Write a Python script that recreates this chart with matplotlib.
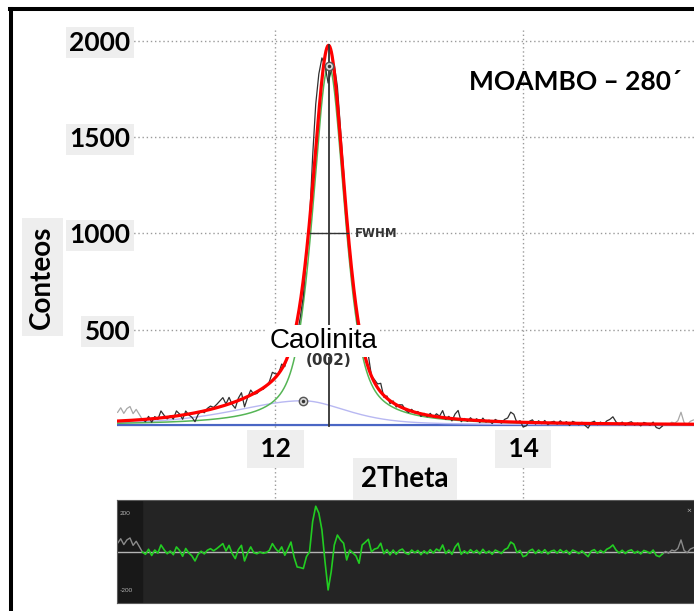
#!/usr/bin/env python3
"""
Ajuste de perfil DRX de la reflexion (002) de caolinita, muestra MOAMBO - 280,
con la curva de diferencias (obs - calc) debajo.
"""

import numpy as np
import matplotlib.pyplot as plt
from matplotlib.lines import Line2D

plt.rcParams["font.family"] = ["Lato", "DejaVu Sans"]

# --- Data ---
# step scan in 2theta
tt_start = 10.725
tt_step = 0.025
fit_first, fit_last = 8, 176   # step indices of the refined window

# difference obs - calc (counts), one value per step
residual = [
    45, 68, 38, 62, 72, 34, 55, 28, 0, -12,
    14, -18, 10, -6, 36, 12, -9, 5, -14, 26,
    8, -22, 18, -5, -20, -46, -12, 4, -10, 9,
    17, 6, 17, 30, 43, 5, 34, -8, -34, 12,
    34, -46, -5, 26, -4, -9, 0, -7, -3, 8,
    43, 18, 0, 26, -17, 15, 51, -26, -77, -80,
    -85, -24, 1, 156, 235, 200, 113, -50, -195, -101,
    36, 87, 62, 45, -41, 10, -5, -20, -58, 36,
    50, 65, 1, 15, 20, 45, -9, 12, -15, 10,
    -12, 8, 15, -6, -12, 10, -4, 8, -14, 6,
    -9, 12, -6, 15, 5, 36, -8, 10, -12, 25,
    45, -12, 6, -8, 12, -4, 9, -10, 14, -6,
    5, -12, 10, 2, -8, 12, 20, 51, 40, -3,
    8, -24, -18, 6, 14, -8, 10, -5, 12, -10,
    4, 9, -6, 12, -3, 8, -12, 10, 3, -8,
    6, -10, -24, 5, 12, -6, 8, -4, 14, 22,
    36, 10, -5, 9, -8, 6, 11, -6, 4, -10,
    8, 2, -7, 10, -18, -24, -10, 3, -6, 10,
    5, 18, 62, 8, -4, 15, 22,
]

# refined profile parameters
background = 5.0

kaol_pos = 12.43          # caolinita (002)
kaol_height = 1868.0
kaol_hwhm = 0.155
kaol_eta = 0.6

broad_pos = 12.22         # broad shoulder (split pseudo-Voigt)
broad_height = 126.0
broad_hwhm_low = 0.65
broad_hwhm_high = 0.42
broad_eta = 0.5

fwhm_level = 1000
yticks = [500, 1000, 1500, 2000]
xticks = [12, 14]
diff_ticks = [200, -200]


def pseudo_voigt(x, pos, height, hwhm, eta):
    u = ((x - pos) / hwhm) ** 2
    return height * (eta / (1.0 + u) + (1.0 - eta) * np.exp(-np.log(2) * u))


def kaolinite(x):
    return pseudo_voigt(x, kaol_pos, kaol_height, kaol_hwhm, kaol_eta)


def broad(x):
    return np.where(
        x < broad_pos,
        pseudo_voigt(x, broad_pos, broad_height, broad_hwhm_low, broad_eta),
        pseudo_voigt(x, broad_pos, broad_height, broad_hwhm_high, broad_eta),
    )


def calc(x):
    return background + kaolinite(x) + broad(x)


two_theta = tt_start + tt_step * np.arange(len(residual))
diff = np.array(residual, dtype=float)
obs = calc(two_theta) + diff

xmin, xmax = 10.72, 15.38
x_fine = np.linspace(xmin, xmax, 1500)

# --- Layout (pixel helpers) ---
W, H = 694, 611
fig = plt.figure(figsize=(W / 100, H / 100), dpi=100)


def fx(px):
    return px / W


def fy(py):
    return 1 - py / H


label_box = dict(boxstyle="square,pad=0.13", fc="#eeeeee", ec="none")

ax = fig.add_axes([fx(117), fy(430), fx(694) - fx(117), fy(20) - fy(430)])
ax.set_xlim(xmin, xmax)
ax.set_ylim(-20.8, 2108)
for s in ax.spines.values():
    s.set_visible(False)

grid_style = dict(color="#9a9a9a", linestyle=(0, (1, 2)), linewidth=1)
ax.set_yticks(yticks)
ax.grid(axis="y", **grid_style)
for t in xticks:
    ax.plot([t, t], [-374, 2056], clip_on=False, zorder=1.4, **grid_style)

ax.tick_params(axis="y", length=0, pad=-9.5, labelsize=19)
ax.set_xticks(xticks, labels=[f" {t} " for t in xticks])
ax.tick_params(axis="x", length=0, pad=5, labelsize=19)
for lbl in ax.get_yticklabels():
    lbl.set_fontweight("bold")
    lbl.set_bbox(label_box)
for lbl in ax.get_xticklabels():
    lbl.set_fontweight("bold")
    lbl.set_bbox(dict(boxstyle="square,pad=0.25", fc="#eeeeee", ec="none"))

# baseline, components, observed, total fit
ax.plot(x_fine, np.full_like(x_fine, background), color="#4a66c4", lw=1.6, zorder=2)
ax.plot(x_fine, background + broad(x_fine), color="#b8b8f2", lw=1, zorder=2.1)
ax.plot(x_fine, background + kaolinite(x_fine), color="#55b555", lw=1.1, zorder=2.2)

ax.plot(two_theta[:fit_first + 1], obs[:fit_first + 1], color="#a8a8a8", lw=0.9, zorder=2.3)
ax.plot(two_theta[fit_last:], obs[fit_last:], color="#a8a8a8", lw=0.9, zorder=2.3)
ax.plot(two_theta[fit_first:fit_last + 1], obs[fit_first:fit_last + 1],
        color="#303030", lw=0.9, zorder=2.4)

ax.plot(x_fine, calc(x_fine), color="#ff0000", lw=2.3, zorder=2.6)

# peak position and FWHM bar
ax.plot([kaol_pos, kaol_pos], [0, calc(kaol_pos)], color="#333333", lw=1.3, zorder=2.7)
ax.plot([kaol_pos - kaol_hwhm, kaol_pos + kaol_hwhm], [fwhm_level, fwhm_level],
        color="#333333", lw=1, zorder=2.7)
ax.annotate("FWHM", xy=(kaol_pos + kaol_hwhm, fwhm_level), xytext=(5, 0),
            textcoords="offset points", ha="left", va="center",
            fontsize=8.5, fontweight="bold", family="DejaVu Sans", color="#333333")

# component markers
for px_, py_ in [(kaol_pos, kaol_height), (broad_pos, background + broad_height)]:
    ax.plot(px_, py_, marker="o", ms=6, mfc="#d8d8d8", mec="#555555", mew=1, zorder=3)
    ax.plot(px_, py_, marker=".", ms=3, color="#333333", zorder=3.1)

ax.text(12.39, 405, "Caolinita", family="Liberation Sans", fontsize=20,
        ha="center", va="baseline", zorder=6,
        bbox=dict(boxstyle="square,pad=0.1", fc="white", ec="none"))
ax.text(kaol_pos, 317, "(002)", family="DejaVu Sans", fontsize=11,
        fontweight="bold", ha="center", va="baseline", color="#333333", zorder=6)

fig.text(fx(575), fy(90), "MOAMBO – 280´", fontsize=19, fontweight="bold",
         ha="center", va="baseline")
fig.text(fx(42), fy(277), "Conteos", rotation=90, fontsize=20, fontweight="bold",
         ha="center", va="center",
         bbox=dict(boxstyle="square,pad=0.27", fc="#eeeeee", ec="none"))
fig.text(fx(405), fy(487), "2Theta", fontsize=20, fontweight="bold",
         ha="center", va="baseline",
         bbox=dict(boxstyle="square,pad=0.28", fc="#eeeeee", ec="none"))

# --- Difference panel ---
rax = fig.add_axes([fx(117), fy(603), fx(694) - fx(117), fy(500) - fy(603)])
rax.set_facecolor("#242424")
rax.set_xlim(xmin, xmax)
rax.set_ylim(-262, 267)
rax.set_xticks([])
rax.set_yticks([])
for s in rax.spines.values():
    s.set_color("#5a5a5a")
rax.axvspan(xmin, two_theta[fit_first], color="#181818", zorder=0.5)
rax.axhline(0, color="#b4b4b4", lw=1, zorder=1)
rax.plot(two_theta[:fit_first + 1], diff[:fit_first + 1], color="#8a8a8a", lw=1, zorder=2)
rax.plot(two_theta[fit_last:], diff[fit_last:], color="#8a8a8a", lw=1, zorder=2)
rax.plot(two_theta[fit_first:fit_last + 1], diff[fit_first:fit_last + 1],
         color="#22cc22", lw=1.2, zorder=3)
for t in diff_ticks:
    rax.text(xmin + 0.02, t, str(t), fontsize=4.5, color="#b0b0b0",
             ha="left", va="center")
fig.text(fx(689), fy(510), "×", fontsize=6, color="#b0b0b0", ha="center", va="center")

# outer frame (left and top edges)
fig.add_artist(Line2D([fx(11.3), fx(11.3)], [0, fy(8.7)], lw=2.9, color="black"))
fig.add_artist(Line2D([fx(10), 1], [fy(8.7), fy(8.7)], lw=2.9, color="black"))

fig.savefig("out.png", dpi=100, facecolor="white")
plt.close(fig)
